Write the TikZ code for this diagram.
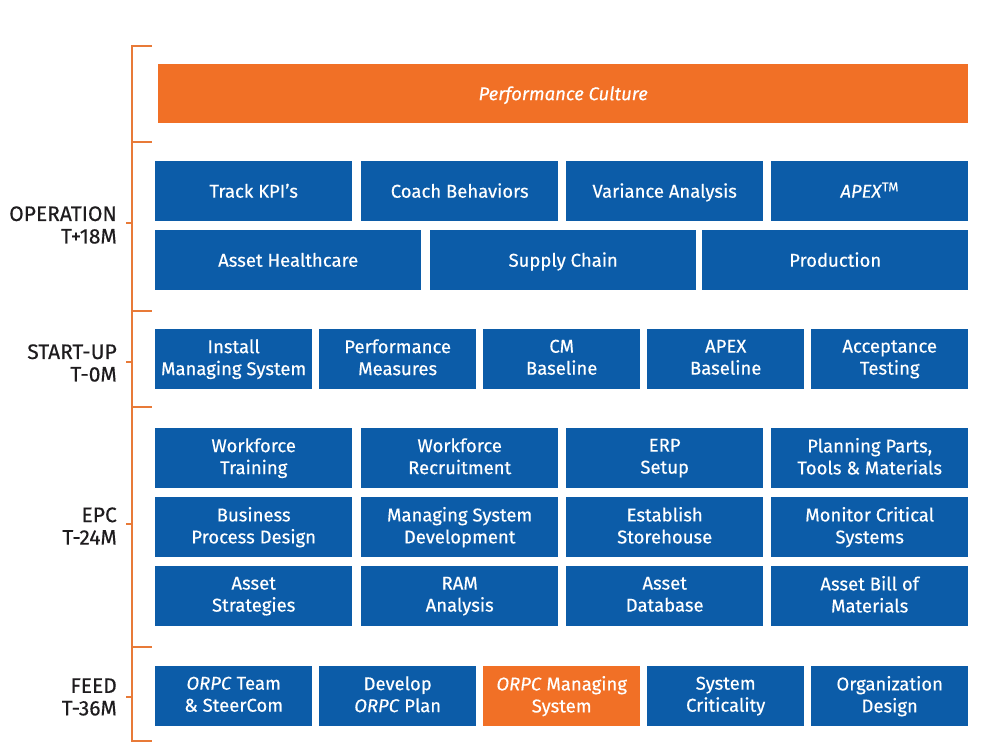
\documentclass[tikz,border=0pt]{standalone}
\usepackage{fontspec}
\setmainfont{Fira Sans}[FakeBold=0.35]
\definecolor{cblue}{RGB}{12,92,168}
\definecolor{corange}{RGB}{241,112,38}
\definecolor{cbrack}{RGB}{232,122,56}
\definecolor{ctext}{RGB}{30,28,30}
\newcommand{\topstrut}{\rule{0pt}{17pt}}
\newcommand{\botstrut}{\rule[-4pt]{0pt}{4pt}}
\begin{document}
\begin{tikzpicture}[x=1pt,y=-1pt,
  box/.style={fill=cblue, text=white, anchor=north west, inner sep=0pt, align=center,
    font=\fontsize{18.5}{22}\selectfont,
    execute at begin node=\topstrut, execute at end node=\botstrut},
  obox/.style={box, fill=corange},
  w4/.style={minimum width=197pt, minimum height=60pt},
  w5/.style={minimum width=157pt, minimum height=60pt},
  w3/.style={minimum width=266pt, minimum height=60pt},
  brk/.style={draw=cbrack, line width=2.6pt},
  lbl/.style={anchor=east, align=right, text=ctext, inner sep=0pt, font=\fontsize{21}{22.5}\selectfont}]
\useasboundingbox (0,0) rectangle (993,744);
% bracket
\coordinate (btop) at (132,46);
\coordinate (bbot) at (132,741);
\draw[brk] (152,46) -- (btop) -- (bbot) -- (152,741);
\foreach \yy in {142,311,407,647} \draw[brk] (132,\yy) -- (152,\yy);
\foreach \yy in {223,362,524,697} \draw[draw=cbrack, line width=1.5pt] (126,\yy) -- (132,\yy);
% labels
\node[lbl] (lop) at (117,225) {OPERATION\\T+18M};
\node[lbl] (lsu) at (117,363) {START-UP\\T-0M};
\node[lbl] (lepc) at (117,526) {EPC\\T-24M};
\node[lbl] (lfeed) at (117,697) {FEED\\T-36M};
% performance culture
\node[obox, minimum width=810pt, minimum height=59pt] (pc) at (158,64) {\itshape Performance Culture};
% operation
\node[box,w4] (o1) at (155,161) {Track KPI’s};
\node[box,w4] (o2) at (361,161) {Coach Behaviors};
\node[box,w4] (o3) at (566,161) {Variance Analysis};
\node[box,w4] (o4) at (771,161) {\textit{APEX}\textsuperscript{TM}};
\node[box,w3] (o5) at (155,230) {Asset Healthcare};
\node[box,w3] (o6) at (430,230) {Supply Chain};
\node[box,w3] (o7) at (702,230) {Production};
% start-up
\node[box,w5] (s1) at (155,329) {Install\\Managing System};
\node[box,w5] (s2) at (319,329) {Performance\\Measures};
\node[box,w5] (s3) at (483,329) {CM\\Baseline};
\node[box,w5] (s4) at (647,329) {APEX\\Baseline};
\node[box,w5] (s5) at (811,329) {Acceptance\\Testing};
% EPC
\node[box,w4] (e1) at (155,428) {Workforce\\Training};
\node[box,w4] (e2) at (361,428) {Workforce\\Recruitment};
\node[box,w4] (e3) at (566,428) {ERP\\Setup};
\node[box,w4] (e4) at (771,428) {Planning Parts,\\Tools \& Materials};
\node[box,w4] (e5) at (155,497) {Business\\Process Design};
\node[box,w4] (e6) at (361,497) {Managing System\\Development};
\node[box,w4] (e7) at (566,497) {Establish\\Storehouse};
\node[box,w4] (e8) at (771,497) {Monitor Critical\\Systems};
\node[box,w4] (e9) at (155,566) {Asset\\Strategies};
\node[box,w4] (e10) at (361,566) {RAM\\Analysis};
\node[box,w4] (e11) at (566,566) {Asset\\Database};
\node[box,w4] (e12) at (771,566) {Asset Bill of\\Materials};
% FEED
\node[box,w5] (f1) at (155,666) {\textit{ORPC} Team\\\& SteerCom};
\node[box,w5] (f2) at (319,666) {Develop\\\textit{ORPC} Plan};
\node[obox,w5] (f3) at (483,666) {\textit{ORPC} Managing\\System};
\node[box,w5] (f4) at (647,666) {System\\Criticality};
\node[box,w5] (f5) at (811,666) {Organization\\Design};
\end{tikzpicture}
\end{document}
